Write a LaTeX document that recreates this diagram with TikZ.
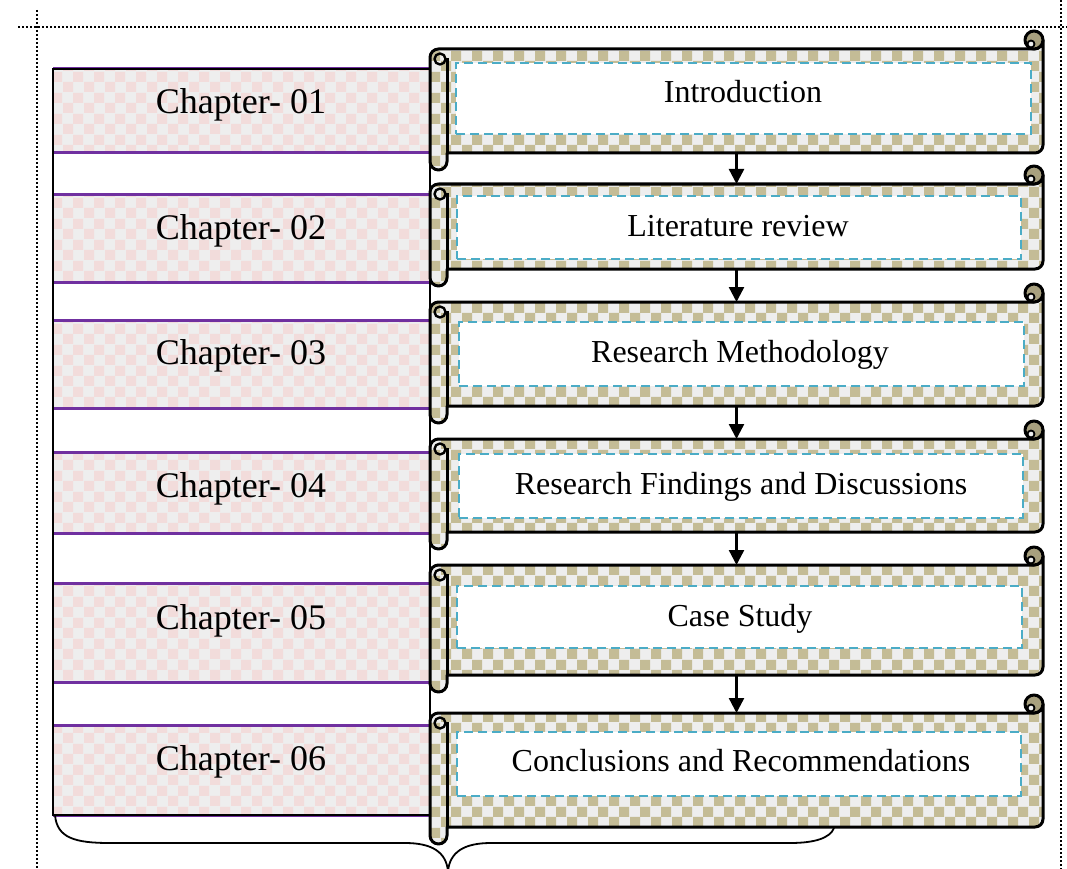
\documentclass[tikz,border=0pt]{standalone}
\usepackage{fontspec}
\setmainfont{Liberation Serif}
\usetikzlibrary{patterns.meta,arrows.meta,calc}
\definecolor{lightc}{HTML}{EEEEEE}
\definecolor{pinkc}{HTML}{F2DCDB}
\definecolor{tanc}{HTML}{C4BC96}
\definecolor{curlc}{HTML}{A8A07E}
\definecolor{purplec}{HTML}{7030A0}
\definecolor{bluec}{HTML}{4BACC6}
\pgfdeclarepattern{
  name=bigcheck,
  type=uncolored,
  bottom left={\pgfpoint{0pt}{0pt}},
  top right={\pgfpoint{21pt}{21pt}},
  tile size={\pgfpoint{21pt}{21pt}},
  code={
    \pgfpathrectangle{\pgfpoint{0pt}{0pt}}{\pgfpoint{10.5pt}{10.5pt}}
    \pgfpathrectangle{\pgfpoint{10.5pt}{10.5pt}}{\pgfpoint{10.5pt}{10.5pt}}
    \pgfusepath{fill}
  }
}
\tikzset{
  scrollline/.style={line width=3pt, line join=round, draw=black},
  scrollfill/.style={preaction={fill=lightc}, preaction={pattern=bigcheck, pattern color=tanc}},
  bandbox/.style={inner sep=0pt, outer sep=0pt, minimum width=377pt, fill=lightc, postaction={pattern=bigcheck, pattern color=pinkc}},
  purpleline/.style={draw=purplec, line width=3pt},
  dbox/.style={draw=bluec, line width=2.6pt, dash pattern=on 9pt off 5pt, fill=white, inner sep=0pt, outer sep=0pt},
  scrollbody/.style={inner sep=0pt, outer sep=0pt, minimum width=613pt},
  chaptxt/.style={font=\fontsize{36}{40}\selectfont, anchor=base, inner sep=0pt},
  scrolltxt/.style={font=\fontsize{32}{36}\selectfont, anchor=base, inner sep=0pt},
  arr/.style={line width=2.4pt, -{Triangle[width=15pt,length=15pt]}},
  frameline/.style={line width=1.8pt, dash pattern=on 1.6pt off 2.4pt},
  bracestyle/.style={line width=1.8pt}
}
\newcommand{\drawscroll}[2]{%
  \draw[scrollline, scrollfill] (430,{#1+8.5}) arc[start angle=180,end angle=270,radius=8.5]
     -- (1034,#1) arc[start angle=90,end angle=0,radius=9]
     -- (1043,{#2-8}) arc[start angle=0,end angle=90,radius=8]
     -- (447,#2) -- (447,{#2+8.5}) arc[start angle=0,end angle=180,radius=8.5] -- cycle;
  \draw[scrollline] (447,{#1+9}) -- (447,#2);
  \draw[scrollline, line width=2.4pt] (440,{#1+10}) circle[radius=5.5];
  \draw[scrollline, fill=curlc] (1034,{#1-9}) circle[radius=9];
  \draw[scrollline, line width=1.8pt, fill=lightc] (1031,{#1-5}) circle[radius=3.5];
}
\begin{document}
\begin{tikzpicture}[x=1pt,y=-1pt]
\useasboundingbox (0,0) rectangle (1067,869);
% dotted frame
\draw[frameline] (18,27) -- (1067,27);
\draw[frameline] (37,10) -- (37,869);
\draw[frameline] (1061,0) -- (1061,869);
% chapter bands
\node[bandbox, minimum height=84pt] (c1) at (241.5,111) {};
\node[bandbox, minimum height=88pt] (c2) at (241.5,238) {};
\node[bandbox, minimum height=88pt] (c3) at (241.5,364) {};
\node[bandbox, minimum height=81pt] (c4) at (241.5,492.5) {};
\node[bandbox, minimum height=99pt] (c5) at (241.5,632.5) {};
\node[bandbox, minimum height=90pt] (c6) at (241.5,770) {};
\foreach \c in {c1,c2,c3,c4,c5,c6}{
  \draw[purpleline] (\c.north west) -- (\c.north east);
  \draw[purpleline] (\c.south west) -- (\c.south east);
}
\node[draw, line width=2.6pt, inner sep=0pt, outer sep=0pt, minimum width=377pt, minimum height=746pt] (chapters) at (241.5,442) {};
\node[chaptxt] (l1) at (241,114) {Chapter- 01};
\node[chaptxt] (l2) at (241,239) {Chapter- 02};
\node[chaptxt] (l3) at (241,364) {Chapter- 03};
\node[chaptxt] (l4) at (241,497) {Chapter- 04};
\node[chaptxt] (l5) at (241,629) {Chapter- 05};
\node[chaptxt] (l6) at (241,770) {Chapter- 06};
% brace
\draw[bracestyle] (55,815) .. controls (57,838) and (75,843) .. (110,843) -- (405,843)
   .. controls (432,843) and (446,852) .. (448,871)
   .. controls (450,852) and (464,843) .. (491,843) -- (790,843)
   .. controls (815,843) and (830,838) .. (834,828);
% scrolls
\drawscroll{49}{153}
\drawscroll{184}{269}
\drawscroll{302}{406}
\drawscroll{439}{532}
\drawscroll{565}{675}
\drawscroll{713}{827}
\node[scrollbody, minimum height=104pt] (s1) at (736.5,101) {};
\node[scrollbody, minimum height=85pt] (s2) at (736.5,226.5) {};
\node[scrollbody, minimum height=104pt] (s3) at (736.5,354) {};
\node[scrollbody, minimum height=93pt] (s4) at (736.5,485.5) {};
\node[scrollbody, minimum height=110pt] (s5) at (736.5,620) {};
\node[scrollbody, minimum height=114pt] (s6) at (736.5,770) {};
% dashed boxes
\node[dbox, minimum width=575pt, minimum height=71pt] (b1) at (743.5,98.5) {};
\node[dbox, minimum width=564pt, minimum height=63pt] (b2) at (739,227.5) {};
\node[dbox, minimum width=565pt, minimum height=64pt] (b3) at (741.5,354) {};
\node[dbox, minimum width=564pt, minimum height=64pt] (b4) at (741,486) {};
\node[dbox, minimum width=565pt, minimum height=62pt] (b5) at (739.5,617) {};
\node[dbox, minimum width=564pt, minimum height=64pt] (b6) at (739,764) {};
\node[scrolltxt] (t1) at (743,103) {Introduction};
\node[scrolltxt] (t2) at (738,236) {Literature review};
\node[scrolltxt] (t3) at (740,362) {Research Methodology};
\node[scrolltxt] (t4) at (741,494) {Research Findings and Discussions};
\node[scrolltxt] (t5) at (740,626) {Case Study};
\node[scrolltxt] (t6) at (741,771) {Conclusions and Recommendations};
% arrows
\draw[arr] (s1.south) -- (s2.north);
\draw[arr] (s2.south) -- (s3.north);
\draw[arr] (s3.south) -- (s4.north);
\draw[arr] (s4.south) -- (s5.north);
\draw[arr] (s5.south) -- (s6.north);
\end{tikzpicture}
\end{document}
